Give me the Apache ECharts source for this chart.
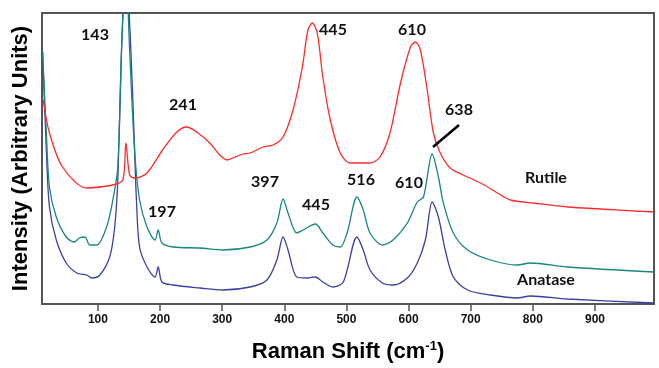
<!DOCTYPE html>
<html><head><meta charset="utf-8">
<script src="https://cdn.jsdelivr.net/npm/echarts@6/dist/echarts.min.js"></script>
<style>html,body{margin:0;padding:0;background:#fff}#c{width:659px;height:368px}</style>
</head><body><div id="c"></div>
<script>
// Raman shift (cm-1) and intensity (arbitrary units)
const rutileX = [12,22,43,82,124,140,145,151,159,179,204,227,243,259,280,296,308,317,333,345,366,382,398,414,429,438,445,453,462,474,490,506,538,554,570,587,603,611,619,630,640,651,667,688,716,743,764,801,856,909,995];
const rutileY = [204,171,137,116,119,124,161,129,126,131,154,172,177,172,161,149,144,146,150,151,157,159,167,194,237,274,281,271,227,184,151,141,141,147,171,221,257,262,254,214,171,151,136,129,121,111,104,101,97,95,92];

const mixX = [11,17,22,33,49,62,70,79,87,98,114,124,132,138,145,151,159,167,179,192,197,203,221,264,301,345,372,388,398,406,420,430,450,462,478,490,501,517,527,538,558,575,598,614,624,638,648,656,672,695,732,775,796,856,995];
const mixY = [252,171,117,87,67,62,66,67,59,59,77,104,137,254,340,254,154,104,77,64,74,61,57,56,54,57,64,81,105,91,71,74,80,71,59,57,71,107,94,71,59,64,81,102,107,150,127,101,71,54,44,39,41,37,32];

const anataseX = [11,17,22,33,49,66,82,90,103,119,127,132,138,145,153,159,162,167,179,192,197,203,221,264,301,345,372,388,398,406,420,437,450,462,478,495,517,527,538,558,575,598,614,627,638,648,659,672,695,732,775,796,856,995];
const anataseY = [252,154,97,64,41,31,29,26,29,47,77,124,254,340,254,154,104,57,37,27,37,22,19,16,14,17,24,44,67,54,27,26,27,22,17,22,67,54,34,21,19,26,41,64,102,87,54,27,14,9,6,8,5,1];

const xTicks = [100,200,300,400,500,600,700,800,900];
const peakLabels = [
  {text:'143', x:95, y:35}, {text:'241', x:183, y:105}, {text:'445', x:333, y:30},
  {text:'610', x:412, y:30}, {text:'638', x:459, y:110}, {text:'197', x:162, y:212},
  {text:'397', x:265, y:182}, {text:'445', x:316, y:205}, {text:'516', x:361, y:180},
  {text:'610', x:409, y:183}, {text:'Rutile', x:546, y:178}, {text:'Anatase', x:546, y:280}
];

const zip = (xs, ys) => xs.map((v, i) => [v, ys[i]]);
const chart = echarts.init(document.getElementById('c'), null, {renderer:'canvas'});
const lineStyle = (c) => ({color:c, width:1.3});
chart.setOption({
  animation:false,
  grid:{left:42, right:5, top:13, bottom:64, show:true, borderColor:'#555', borderWidth:2, backgroundColor:'transparent'},
  xAxis:{type:'value', min:10, max:995,
    name:'Raman Shift (cm{sup|-1})', nameLocation:'middle', nameGap:36,
    nameTextStyle:{fontFamily:'Liberation Sans', fontWeight:'bold', fontSize:22, color:'#000',
      rich:{sup:{fontFamily:'Liberation Sans', fontWeight:'bold', fontSize:13, color:'#000', verticalAlign:'top', padding:[0,0,10,0]}}},
    axisLine:{show:true, lineStyle:{color:'#555', width:2}},
    axisTick:{show:true, length:7, lineStyle:{color:'#555', width:1.5}, customValues:xTicks},
    axisLabel:{customValues:xTicks, fontFamily:'Liberation Sans', fontWeight:'bold', fontSize:12, color:'#111', margin:10},
    splitLine:{show:false}},
  yAxis:{type:'value', min:0, max:291,
    name:'Intensity (Arbitrary Units)', nameLocation:'middle', nameGap:10,
    nameTextStyle:{fontFamily:'Liberation Sans', fontWeight:'bold', fontSize:22, color:'#000'},
    axisLine:{show:true, lineStyle:{color:'#555', width:2}},
    axisTick:{show:false}, axisLabel:{show:false}, splitLine:{show:false}},
  series:[
    {type:'line', data:zip(rutileX, rutileY), smooth:0.3, showSymbol:false, lineStyle:lineStyle('#ff2b2b'), clip:true, z:3},
    {type:'line', data:zip(mixX, mixY), smooth:0.3, showSymbol:false, lineStyle:lineStyle('#17877f'), clip:true, z:2},
    {type:'line', data:zip(anataseX, anataseY), smooth:0.3, showSymbol:false, lineStyle:lineStyle('#3b3fa6'), clip:true, z:1}
  ],
  graphic:[
    ...peakLabels.map(p => ({type:'text', x:p.x, y:p.y, z:10,
      style:{text:p.text, fontFamily:'Lato', fontWeight:'bold', fontSize:16, fill:'#111', align:'center', verticalAlign:'middle'}})),
    {type:'line', z:10, shape:{x1:433, y1:147, x2:459, y2:125}, style:{stroke:'#000', lineWidth:2.5}}
  ]
});
</script></body></html>
